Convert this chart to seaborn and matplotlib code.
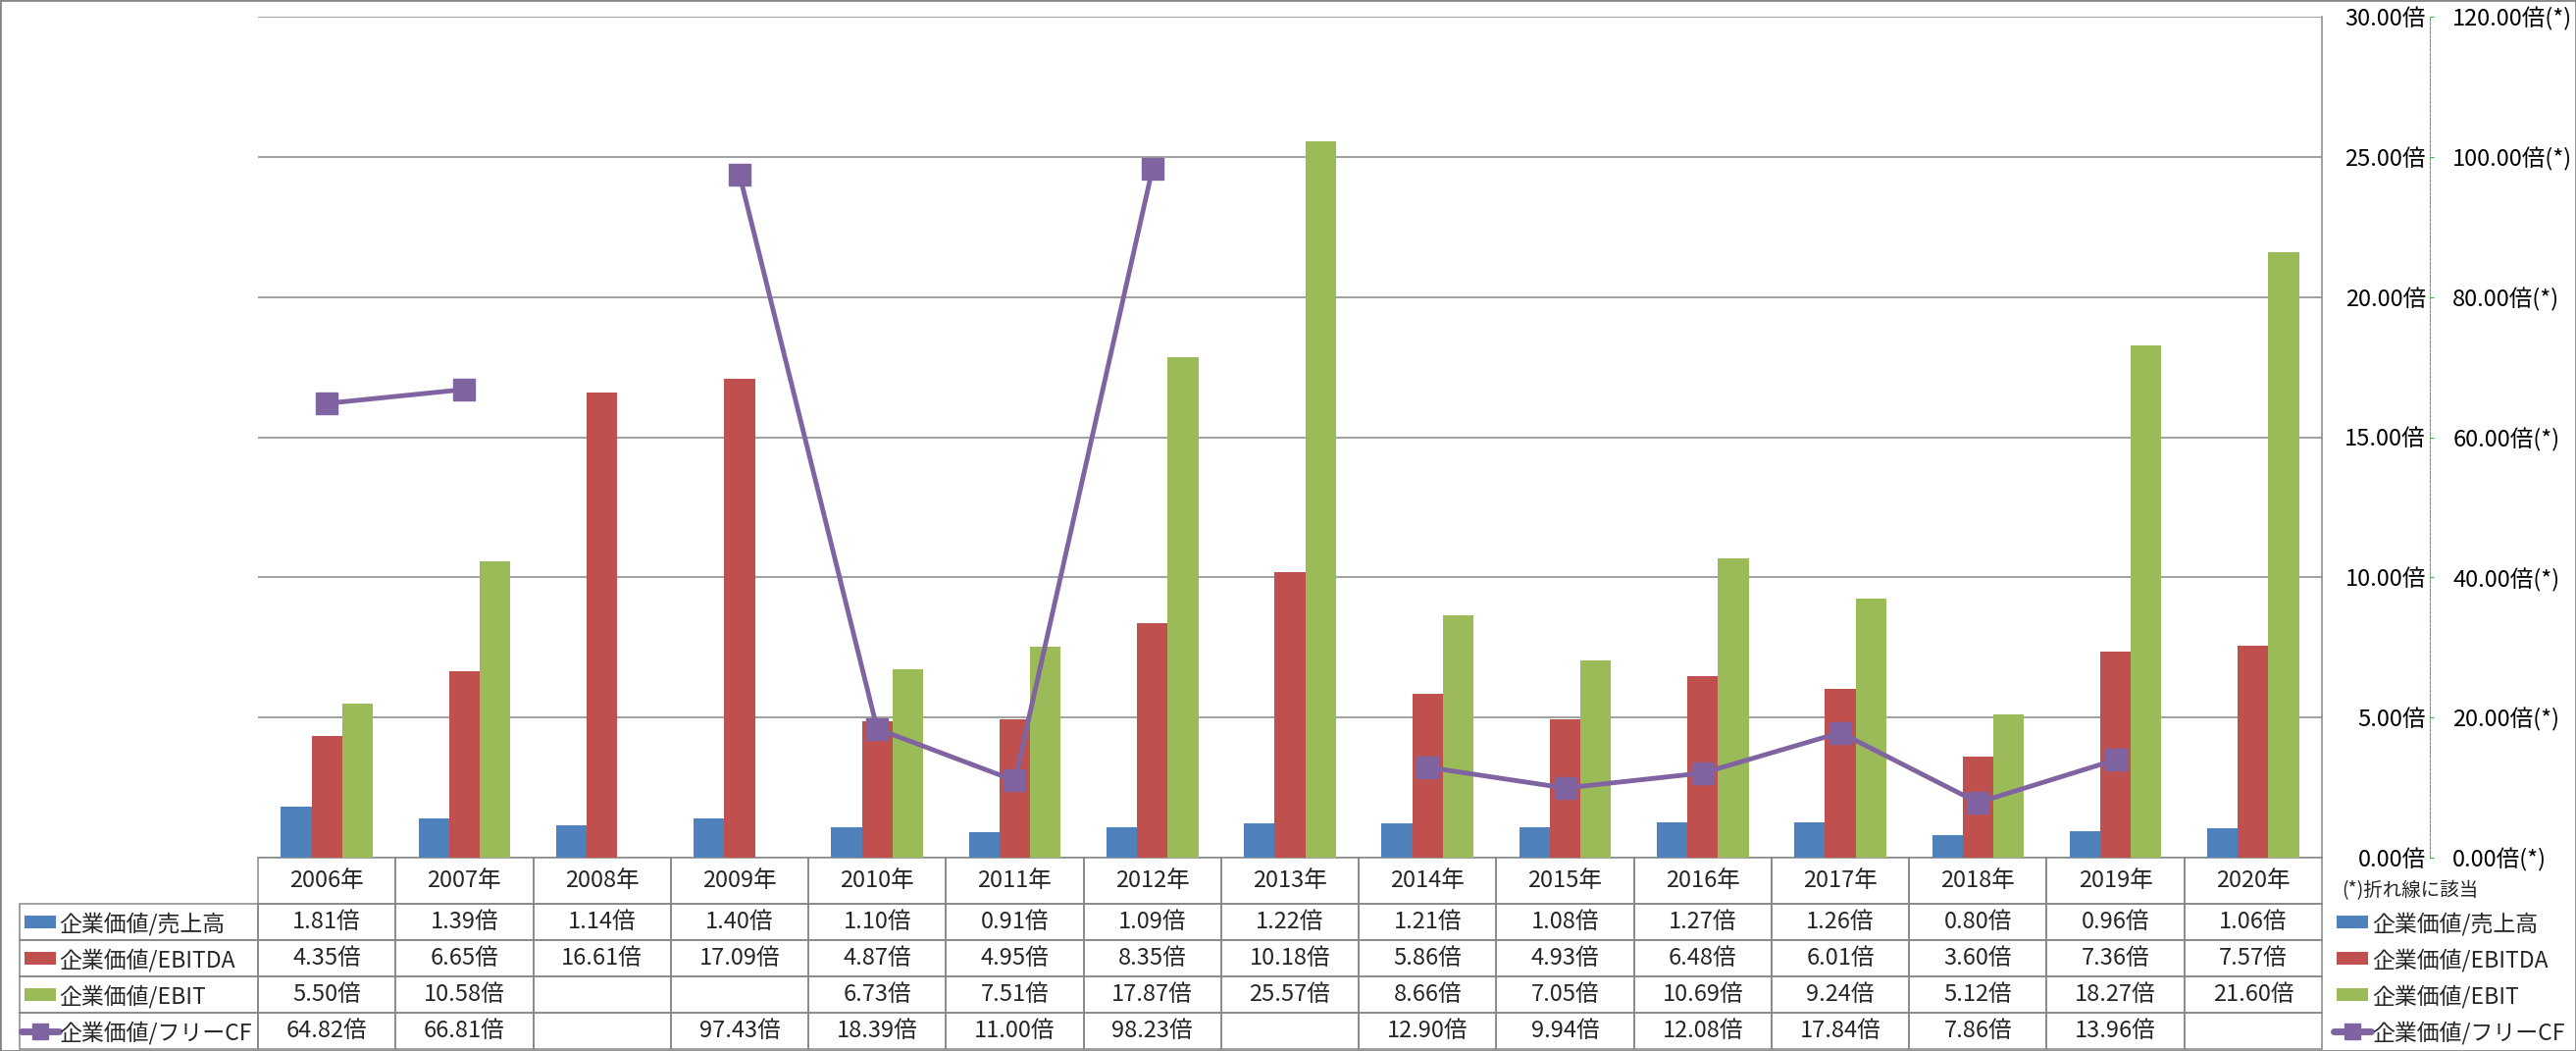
import numpy as np
import pandas as pd
import matplotlib
matplotlib.use('Agg')
import matplotlib.pyplot as plt
import seaborn as sns
from matplotlib.patches import Rectangle
from matplotlib.lines import Line2D

# data
years = ['2006年', '2007年', '2008年', '2009年', '2010年', '2011年', '2012年', '2013年',
         '2014年', '2015年', '2016年', '2017年', '2018年', '2019年', '2020年']
series = ['企業価値/売上高', '企業価値/EBITDA', '企業価値/EBIT', '企業価値/フリーCF']
sales = [1.81, 1.39, 1.14, 1.40, 1.10, 0.91, 1.09, 1.22, 1.21, 1.08, 1.27, 1.26, 0.80, 0.96, 1.06]
ebitda = [4.35, 6.65, 16.61, 17.09, 4.87, 4.95, 8.35, 10.18, 5.86, 4.93, 6.48, 6.01, 3.60, 7.36, 7.57]
ebit = [5.50, 10.58, np.nan, np.nan, 6.73, 7.51, 17.87, 25.57, 8.66, 7.05, 10.69, 9.24, 5.12, 18.27, 21.60]
fcf = [64.82, 66.81, np.nan, 97.43, 18.39, 11.00, 98.23, np.nan, 12.90, 9.94, 12.08, 17.84, 7.86, 13.96, np.nan]

bar_colors = ['#4F81BD', '#C0504D', '#9BBB59']
line_color = '#8064A2'
grid_color = '#868686'
axis_green = '#22CC22'

W, H = 2626, 1071
sns.set_theme(style='white')
plt.rcParams['font.family'] = ['Noto Sans CJK JP', 'DejaVu Sans']

# layout in pixels
L, R, T, B = 263, 2367, 17, 874
TB = 1069          # bottom of data table
LBL = 20           # left of row label column
ROW_H, HEAD_H = 37, 47
FS = 17
FS_LBL = 16.5


def fx(p):
    return p / W


def fy(p):
    return 1 - p / H


fig = plt.figure(figsize=(W / 100, H / 100), dpi=100)
ax = fig.add_axes([fx(L), fy(B), fx(R) - fx(L), fy(T) - fy(B)])

df = pd.DataFrame({
    'year': years * 3,
    'series': np.repeat(series[:3], len(years)),
    'value': sales + ebitda + ebit,
}).dropna()

sns.barplot(data=df, x='year', y='value', hue='series', order=years, hue_order=series[:3],
            palette=bar_colors, saturation=1, width=0.667, errorbar=None, legend=False,
            linewidth=0, ax=ax)

# secondary axis for the free CF line
ax2 = ax.twinx()
ax2.plot(np.arange(len(years)), fcf, color=line_color, linewidth=3.5, marker='s',
         markersize=16, markerfacecolor=line_color, markeredgecolor=line_color)
ax2.set_ylim(0, 120)
sec_ticks = np.arange(0, 121, 20)
ax2.set_yticks(sec_ticks, labels=[f'{v:.2f}倍(*)' for v in sec_ticks])
ax2.tick_params(axis='y', direction='out', length=3, width=0.8, color=axis_green,
                pad=13.7, labelsize=FS, labelcolor='black')
ax2.grid(False)
for s in ['left', 'top', 'bottom']:
    ax2.spines[s].set_visible(False)
ax2.spines['right'].set_position(('outward', 79.2))
ax2.spines['right'].set_color(axis_green)
ax2.spines['right'].set_linestyle((0, (2.5, 1.5)))
ax2.spines['right'].set_linewidth(0.8)

# primary axis (labels on the right, no ticks)
ax.set_xlim(-0.5, len(years) - 0.5)
ax.set_ylim(0, 30)
ax.set_xticks(range(len(years)))
ax.set_xticklabels([])
ax.set_xlabel('')
ax.set_ylabel('')
ax.tick_params(axis='x', length=0)
prim_ticks = np.arange(0, 31, 5)
ax.set_yticks(prim_ticks, labels=[f'{v:.2f}倍' for v in prim_ticks])
ax.yaxis.tick_right()
ax.tick_params(axis='y', length=0, pad=76.3, labelsize=FS, labelcolor='black')
ax.yaxis.grid(True, color=grid_color, linewidth=1.1)
ax.xaxis.grid(False)
ax.set_axisbelow(True)
for s in ['left', 'top', 'bottom']:
    ax.spines[s].set_visible(False)
ax.spines['right'].set_visible(True)
ax.spines['right'].set_color(grid_color)
ax.spines['right'].set_linewidth(1.1)

# data table under the plot (cell sizes in axes fractions)
def fmt(v):
    return '' if np.isnan(v) else f'{v:.2f}倍'


cell_text = [[fmt(v) for v in row] for row in [sales, ebitda, ebit, fcf]]
ax_h = B - T
ax_w = R - L
lbl_w = (L - LBL) / ax_w
tbl = ax.table(cellText=cell_text, colLabels=years, cellLoc='center', colLoc='center',
               bbox=[0, -(TB - B) / ax_h, 1, (TB - B) / ax_h])
for r in range(1, len(series) + 1):
    tbl.add_cell(r, -1, width=lbl_w, height=ROW_H / ax_h, text='')
tbl.auto_set_font_size(False)
tbl.set_fontsize(FS)
for (r, c), cell in tbl.get_celld().items():
    cell.set_edgecolor(grid_color)
    cell.set_linewidth(1.1)
    cell.set_facecolor('none')
    cell.set_height((HEAD_H if r == 0 else ROW_H) / ax_h)
    cell.set_width(lbl_w if c == -1 else 1 / len(years))

# legend keys + labels in the table and on the right
row_centers = [B + HEAD_H + ROW_H * (i + 0.5) for i in range(4)]


def add_key(x0, yc, i):
    if i < 3:
        fig.add_artist(Rectangle((fx(x0), fy(yc + 6.5)), 32 / W, 13 / H,
                                 transform=fig.transFigure, color=bar_colors[i], lw=0))
    else:
        fig.add_artist(Line2D([fx(x0 - 3), fx(x0 + 16), fx(x0 + 35)], [fy(yc)] * 3,
                              transform=fig.transFigure, color=line_color, lw=5,
                              marker='s', markersize=12, markevery=[1]))


for i, yc in enumerate(row_centers):
    add_key(25, yc, i)
    fig.text(fx(60), fy(yc), series[i], fontsize=FS_LBL, ha='left', va='center_baseline')
    add_key(2382, yc, i)
    fig.text(fx(2418), fy(yc), series[i], fontsize=FS_LBL, ha='left', va='center_baseline')

fig.text(fx(2387), fy(905), '(*)折れ線に該当', fontsize=14, ha='left', va='center_baseline')

# chart border
fig.add_artist(Rectangle((0, 0), 1, 1, transform=fig.transFigure, fill=False,
                         ec=grid_color, lw=2))

for t in ax.yaxis.get_major_ticks():
    t.label2.set_horizontalalignment('right')
fig.savefig('out.png', dpi=100)
